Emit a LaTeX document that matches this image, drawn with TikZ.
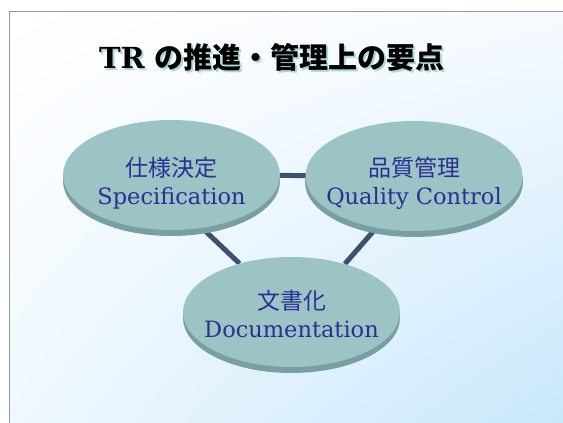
\documentclass[tikz,border=0pt]{standalone}
\usepackage{fontspec}
\setmainfont{DejaVu Serif}
\newfontfamily\cjk{Noto Sans CJK JP}
\newcommand\jpfont{\cjk\fontsize{23}{28}\selectfont}
\usetikzlibrary{backgrounds,shadings,shapes.geometric}
\pgfdeclarelayer{lines}
\pgfsetlayers{background,lines,main}
\definecolor{discfill}{RGB}{156,196,196}
\definecolor{discdark}{RGB}{120,160,162}
\definecolor{linkcol}{RGB}{58,82,112}
\definecolor{txtblue}{RGB}{45,45,150}
\definecolor{bgblue}{RGB}{200,232,252}
\definecolor{bgur}{RGB}{246,250,255}
\definecolor{bgll}{RGB}{240,248,254}
\definecolor{framegray}{RGB}{150,150,150}
\definecolor{shadowcol}{RGB}{170,216,218}
\tikzset{
  disc/.style={ellipse, fill=discfill, inner sep=0pt, minimum width=217pt, minimum height=110pt},
  lbl/.style={text=txtblue, align=center, font=\fontsize{22.5}{28}\selectfont, inner sep=0pt},
  link/.style={draw=linkcol, line width=5pt},
  ttl/.style={font=\fontsize{29}{34}\selectfont\bfseries, inner sep=0pt}
}
\begin{document}
\begin{tikzpicture}[x=1pt,y=-1pt]
\useasboundingbox (0,0) rectangle (563,423);
\begin{pgfonlayer}{background}
\fill[white] (0,0) rectangle (563,423);
\shade[upper left=white, upper right=bgur, lower left=bgll, lower right=bgblue] (10,12) rectangle (563,423);
\draw[framegray, line width=1.2pt] (9.5,423) -- (9.5,11.5) -- (563,11.5);
\end{pgfonlayer}
% title
\node[ttl, text=shadowcol] at (274,59) {TR {\cjk の推進・管理上の要点}};
\node[ttl] (title) at (272,57) {TR {\cjk の推進・管理上の要点}};
% disc bases
\fill[discdark] (171.5,181) ellipse [x radius=108.5, y radius=55];
\fill[discdark] (414,182) ellipse [x radius=109, y radius=55];
\fill[discdark] (291.5,318) ellipse [x radius=108.5, y radius=55];
% discs
\node[disc] (spec) at (171.5,175) {};
\node[disc] (qc) at (414,176) {};
\node[disc] (doc) at (291.5,312) {};
% labels
\node[lbl] (speclbl) at ([yshift=-8pt]spec.center) {{\jpfont 仕様決定}\\Specification};
\node[lbl] (qclbl) at ([yshift=-7pt]qc.center) {{\jpfont 品質管理}\\Quality Control};
\node[lbl] (doclbl) at ([yshift=-2pt]doc.center) {{\jpfont 文書化}\\Documentation};
% connectors
\begin{pgfonlayer}{lines}
\draw[link] (spec.center) -- (qc.center);
\draw[link] (spec.-60) -- (doc.137);
\draw[link] (qc.-126) -- (doc.42);
\end{pgfonlayer}
\end{tikzpicture}
\end{document}
